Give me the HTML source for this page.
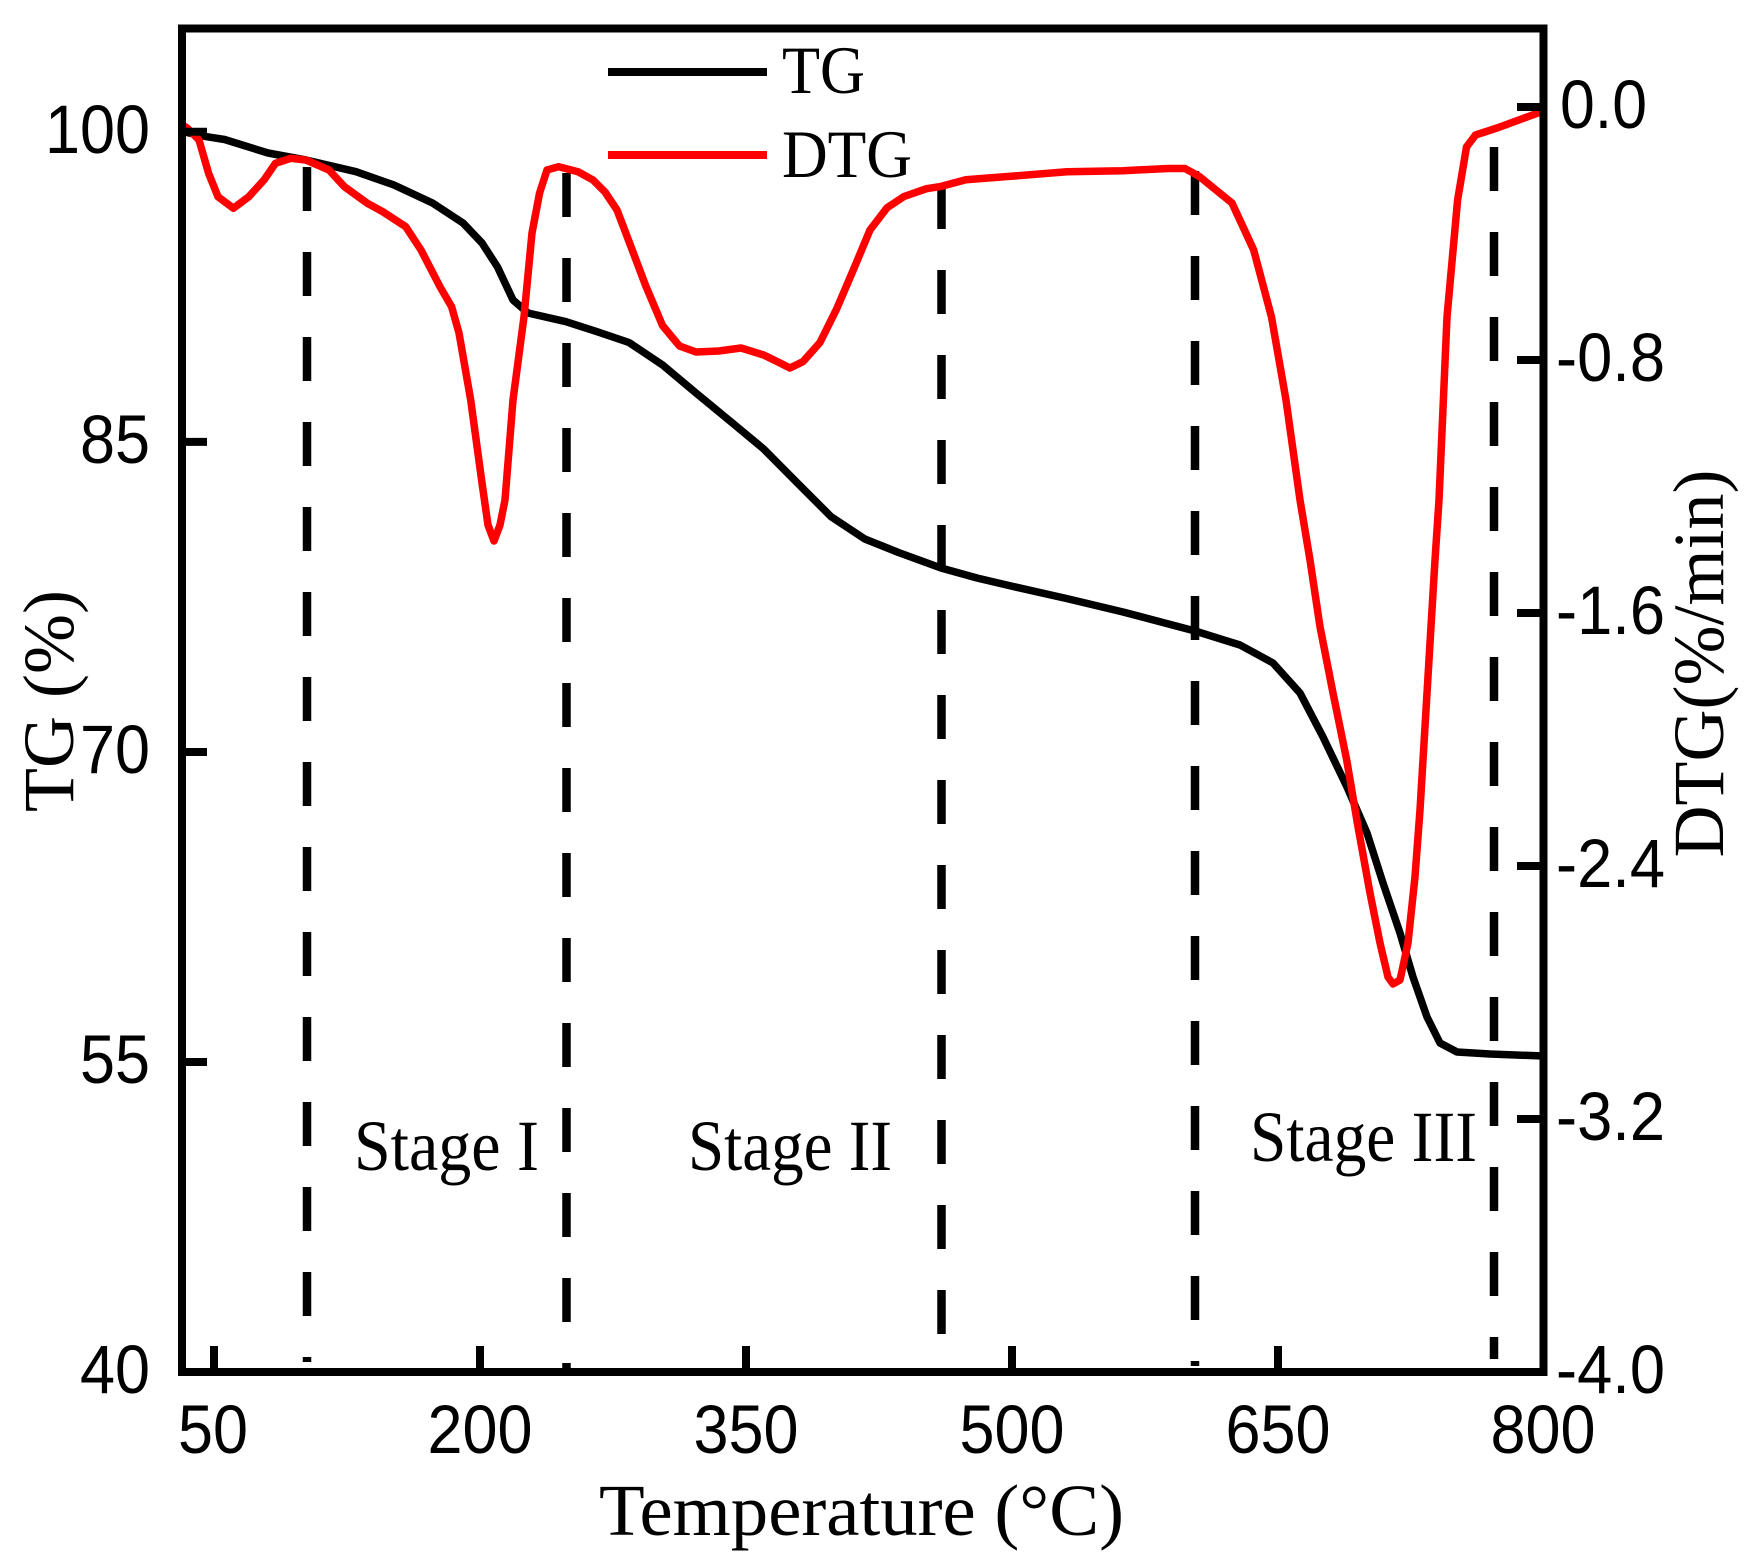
<!DOCTYPE html>
<html>
<head>
<meta charset="utf-8">
<style>
  html,body{margin:0;padding:0;background:#fff;}
  svg{display:block;}
  .tick{font-family:"Liberation Sans",Arial,sans-serif;font-size:69px;fill:#000;}
  .serif{font-family:"Liberation Serif","Times New Roman",serif;fill:#000;}
</style>
</head>
<body>
<svg width="1761" height="1554" viewBox="0 0 1761 1554" xmlns="http://www.w3.org/2000/svg">
  <rect x="0" y="0" width="1761" height="1554" fill="#fff"/>

  <!-- dashed stage separators -->
  <g stroke="#000" stroke-width="8.5" stroke-dasharray="44 41" fill="none">
    <line x1="307" y1="167" x2="307" y2="1362"/>
    <line x1="566.5" y1="173" x2="566.5" y2="1368"/>
    <line x1="941.5" y1="185" x2="941.5" y2="1368"/>
    <line x1="1195" y1="171" x2="1195" y2="1366"/>
    <line x1="1494" y1="147" x2="1494" y2="1359"/>
  </g>

  <!-- TG curve -->
  <polyline fill="none" stroke="#000" stroke-width="7.5" stroke-linejoin="round" stroke-linecap="round"
    points="182,131.5 206.7,136.7 224.6,139.5 268,153 306,160 356,171.7 394,185 432.5,203 463,223 482,243 497.5,267 513,300 528,313 566,321.7 597,331.7 629,342.5 662.6,365 696,393 730,421 763.7,449 797.4,483 831,516.6 864.8,539 898.5,552.5 941,568 977,578 1011,586 1067,598.6 1123,612 1195,631 1240,645 1273,663 1300,693 1323,737 1347,787 1367,833 1383,883 1400,933 1413,977 1427,1017 1440,1043 1457,1052 1490,1054 1543,1056"/>

  <!-- DTG curve -->
  <polyline fill="none" stroke="#ff0000" stroke-width="7.5" stroke-linejoin="round" stroke-linecap="round"
    points="184,126 187.5,128.3 199,140 208.6,173.3 218,196.7 233.4,208.3 248.8,196.7 264,180 275.5,163.3 290.8,158.3 306,160 329,170 344.4,186.7 367.4,203.3 382.7,211.7 405.7,226.7 421,250 440,286.7 451.6,306.7 459,333 470.7,400 482,483 488,525 494,541 500,525 505,500 513,400 524,316.7 532,233 539.6,193 547,170 558.7,166.7 578,171.7 593,180 605,192 617,210 629,241.5 645.8,286 662.6,325.7 679.5,346 696,352 718.8,351 741,348 763.7,355 778,362 790,368 803,361.6 820,342.5 836.7,308.8 853.5,269.5 870,230 887,207.8 904,196.5 926.5,188.7 941,186.4 965.8,179.7 1010.8,176.3 1067,171.8 1123,170.7 1168,168.5 1185,168.5 1195,174 1200,177 1232,203 1253.7,250 1271.5,317 1286,400 1300,500 1310,560 1320,626.7 1333,693 1346.7,760 1358,826.7 1370,893 1380,943 1388,977 1393,984 1400,980 1408,943 1415,876.7 1420,810 1425,726.7 1430,643 1435,560 1439,500 1447,317 1457.6,200 1466.5,147 1475.5,135 1497,128 1538,113 1543,111"/>

  <!-- axes frame -->
  <rect x="182" y="28.5" width="1361.5" height="1343.5" fill="none" stroke="#000" stroke-width="8"/>

  <!-- ticks -->
  <g stroke="#000" stroke-width="8">
    <!-- left -->
    <line x1="182" y1="131.8" x2="207" y2="131.8"/>
    <line x1="182" y1="441.9" x2="207" y2="441.9"/>
    <line x1="182" y1="752" x2="207" y2="752"/>
    <line x1="182" y1="1062" x2="207" y2="1062"/>
    <!-- bottom -->
    <line x1="214" y1="1372" x2="214" y2="1346"/>
    <line x1="480" y1="1372" x2="480" y2="1346"/>
    <line x1="746" y1="1372" x2="746" y2="1346"/>
    <line x1="1012" y1="1372" x2="1012" y2="1346"/>
    <line x1="1278" y1="1372" x2="1278" y2="1346"/>
    <!-- right -->
    <line x1="1543.5" y1="107" x2="1517" y2="107"/>
    <line x1="1543.5" y1="360" x2="1517" y2="360"/>
    <line x1="1543.5" y1="613" x2="1517" y2="613"/>
    <line x1="1543.5" y1="866" x2="1517" y2="866"/>
    <line x1="1543.5" y1="1119" x2="1517" y2="1119"/>
  </g>

  <!-- left tick labels -->
  <text class="tick" x="45" y="153" textLength="105" lengthAdjust="spacingAndGlyphs">100</text>
  <text class="tick" x="80" y="463" textLength="70" lengthAdjust="spacingAndGlyphs">85</text>
  <text class="tick" x="80" y="773" textLength="70" lengthAdjust="spacingAndGlyphs">70</text>
  <text class="tick" x="80" y="1083" textLength="70" lengthAdjust="spacingAndGlyphs">55</text>
  <text class="tick" x="80" y="1393" textLength="70" lengthAdjust="spacingAndGlyphs">40</text>

  <!-- bottom tick labels -->
  <text class="tick" x="178" y="1453" textLength="70" lengthAdjust="spacingAndGlyphs">50</text>
  <text class="tick" x="427.5" y="1453" textLength="105" lengthAdjust="spacingAndGlyphs">200</text>
  <text class="tick" x="693.5" y="1453" textLength="105" lengthAdjust="spacingAndGlyphs">350</text>
  <text class="tick" x="959.5" y="1453" textLength="105" lengthAdjust="spacingAndGlyphs">500</text>
  <text class="tick" x="1225.5" y="1453" textLength="105" lengthAdjust="spacingAndGlyphs">650</text>
  <text class="tick" x="1490.5" y="1453" textLength="105" lengthAdjust="spacingAndGlyphs">800</text>

  <!-- right tick labels -->
  <text class="tick" x="1560" y="128" textLength="87" lengthAdjust="spacingAndGlyphs">0.0</text>
  <text class="tick" x="1556" y="381" textLength="109" lengthAdjust="spacingAndGlyphs">-0.8</text>
  <text class="tick" x="1556" y="634" textLength="109" lengthAdjust="spacingAndGlyphs">-1.6</text>
  <text class="tick" x="1556" y="887" textLength="109" lengthAdjust="spacingAndGlyphs">-2.4</text>
  <text class="tick" x="1556" y="1140" textLength="109" lengthAdjust="spacingAndGlyphs">-3.2</text>
  <text class="tick" x="1556" y="1393" textLength="109" lengthAdjust="spacingAndGlyphs">-4.0</text>

  <!-- legend -->
  <line x1="608" y1="72" x2="767" y2="72" stroke="#000" stroke-width="8"/>
  <text class="serif" x="782" y="93" font-size="68" textLength="83" lengthAdjust="spacingAndGlyphs">TG</text>
  <line x1="608" y1="155" x2="767" y2="155" stroke="#ff0000" stroke-width="8"/>
  <text class="serif" x="782" y="177" font-size="68" textLength="130" lengthAdjust="spacingAndGlyphs">DTG</text>

  <!-- stage labels -->
  <text class="serif" x="354" y="1170" font-size="72" textLength="185" lengthAdjust="spacingAndGlyphs">Stage I</text>
  <text class="serif" x="688" y="1170" font-size="72" textLength="204" lengthAdjust="spacingAndGlyphs">Stage II</text>
  <text class="serif" x="1250" y="1161" font-size="72" textLength="227" lengthAdjust="spacingAndGlyphs">Stage III</text>

  <!-- axis titles -->
  <text class="serif" x="599" y="1535" font-size="73" textLength="525" lengthAdjust="spacingAndGlyphs">Temperature (°C)</text>
  <text class="serif" font-size="72" text-anchor="middle" transform="translate(73,701) rotate(-90)">TG (%)</text>
  <text class="serif" font-size="72" text-anchor="middle" transform="translate(1723,663.5) rotate(-90)">DTG(%/min)</text>
</svg>
</body>
</html>
